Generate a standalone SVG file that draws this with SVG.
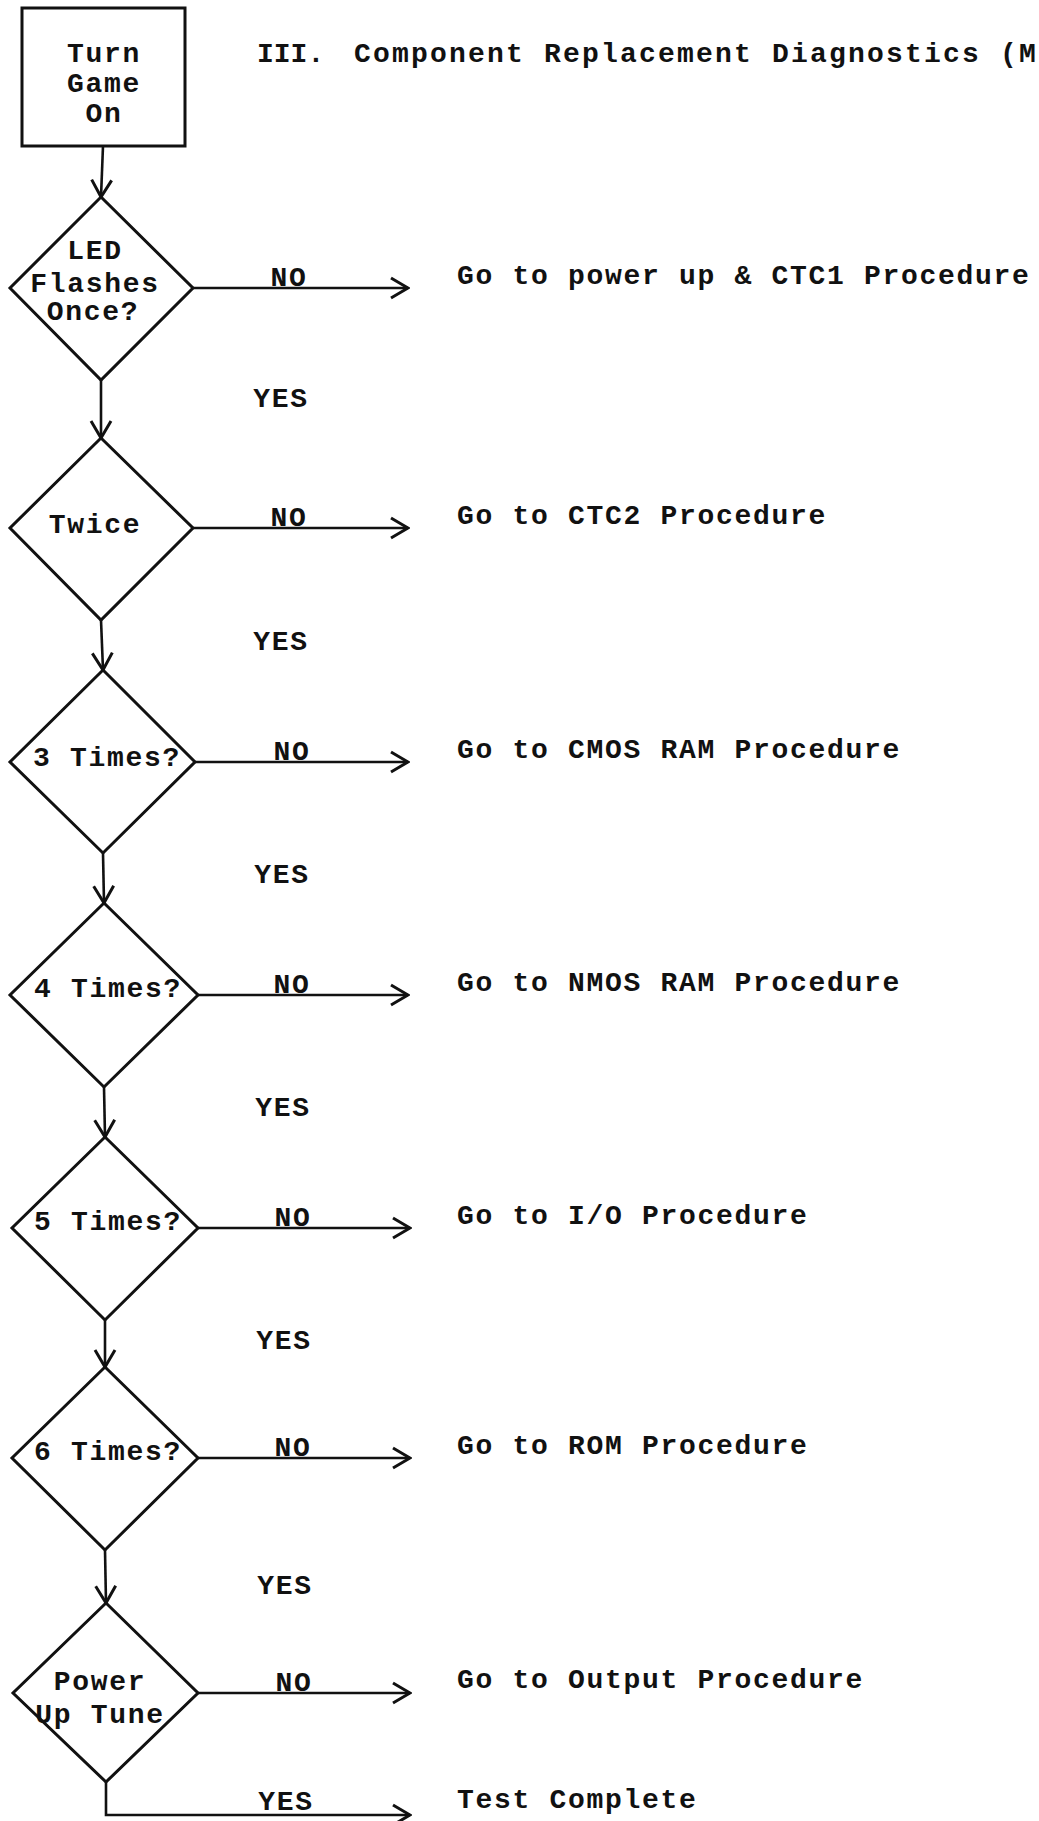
<svg xmlns="http://www.w3.org/2000/svg" width="1039" height="1821" viewBox="0 0 1039 1821">
<defs>
<style>
text{font-family:"Liberation Mono","Courier New",monospace;font-size:28px;font-weight:bold;fill:#111;letter-spacing:1.7px}
.c{text-anchor:middle}
.shape{fill:#fff;stroke:#111;stroke-width:3;stroke-linejoin:miter}
.conn{fill:none;stroke:#111;stroke-width:2.6}
</style>
<marker id="arr" markerUnits="userSpaceOnUse" markerWidth="22" markerHeight="26" viewBox="0 0 22 26" refX="20" refY="13" orient="auto">
<path d="M3,3 L20,13 L3,23" fill="none" stroke="#111" stroke-width="3"/>
</marker>
</defs>
<rect width="1039" height="1821" fill="#fff"/>
<g id="title">
<text x="257" y="62" style="letter-spacing:0">III.</text>
<text x="354" y="62" style="letter-spacing:2.2px">Component Replacement Diagnostics (M</text>
</g>

<g id="connectors">
<line class="conn" x1="103" y1="146" x2="101" y2="197" marker-end="url(#arr)"/>
<line class="conn" x1="101" y1="380" x2="101" y2="438" marker-end="url(#arr)"/>
<line class="conn" x1="101" y1="620" x2="103" y2="670" marker-end="url(#arr)"/>
<line class="conn" x1="103" y1="853" x2="104" y2="903" marker-end="url(#arr)"/>
<line class="conn" x1="104" y1="1087" x2="105" y2="1137" marker-end="url(#arr)"/>
<line class="conn" x1="105" y1="1320" x2="105" y2="1367" marker-end="url(#arr)"/>
<line class="conn" x1="105" y1="1550" x2="106" y2="1603" marker-end="url(#arr)"/>
<line class="conn" x1="193" y1="288" x2="408" y2="288" marker-end="url(#arr)"/>
<line class="conn" x1="193" y1="528" x2="408" y2="528" marker-end="url(#arr)"/>
<line class="conn" x1="195" y1="762" x2="408" y2="762" marker-end="url(#arr)"/>
<line class="conn" x1="198" y1="995" x2="408" y2="995" marker-end="url(#arr)"/>
<line class="conn" x1="198" y1="1228" x2="410" y2="1228" marker-end="url(#arr)"/>
<line class="conn" x1="198" y1="1458" x2="410" y2="1458" marker-end="url(#arr)"/>
<line class="conn" x1="198" y1="1693" x2="410" y2="1693" marker-end="url(#arr)"/>
<path class="conn" d="M106,1782 V1815 H410" stroke-width="3" marker-end="url(#arr)"/>
<text class="c" x="289" y="286">NO</text>
<text class="c" x="289" y="526">NO</text>
<text class="c" x="292" y="760">NO</text>
<text class="c" x="292" y="993">NO</text>
<text class="c" x="293" y="1226">NO</text>
<text class="c" x="293" y="1456">NO</text>
<text class="c" x="294" y="1691">NO</text>
<text class="c" x="281" y="407">YES</text>
<text class="c" x="281" y="650">YES</text>
<text class="c" x="282" y="883">YES</text>
<text class="c" x="283" y="1116">YES</text>
<text class="c" x="284" y="1349">YES</text>
<text class="c" x="285" y="1594">YES</text>
<text class="c" x="286" y="1810">YES</text>
</g>

<g id="start">
<rect class="shape" x="22" y="8" width="163" height="138"/>
<text class="c" x="104" y="62">Turn</text>
<text class="c" x="104" y="92">Game</text>
<text class="c" x="104" y="122">On</text>
</g>

<g id="d1">
<polygon class="shape" points="101,197 193,288 101,380 10,288"/>
<text class="c" x="95" y="259">LED</text>
<text class="c" x="95" y="292">Flashes</text>
<text class="c" x="93" y="320">Once?</text>
</g>
<g id="d2">
<polygon class="shape" points="101,438 193,528 101,620 10,528"/>
<text class="c" x="95" y="533">Twice</text>
</g>
<g id="d3">
<polygon class="shape" points="103,670 195,762 103,853 10,762"/>
<text class="c" x="107" y="766">3 Times?</text>
</g>
<g id="d4">
<polygon class="shape" points="104,903 198,995 104,1087 10,995"/>
<text class="c" x="108" y="997">4 Times?</text>
</g>
<g id="d5">
<polygon class="shape" points="105,1137 198,1228 105,1320 12,1228"/>
<text class="c" x="108" y="1230">5 Times?</text>
</g>
<g id="d6">
<polygon class="shape" points="105,1367 198,1458 105,1550 12,1458"/>
<text class="c" x="108" y="1460">6 Times?</text>
</g>
<g id="d7">
<polygon class="shape" points="106,1603 198,1693 106,1782 13,1693"/>
<text class="c" x="100" y="1690">Power</text>
<text class="c" x="100" y="1723">Up Tune</text>
</g>

<g id="t1"><text x="457" y="284">Go to power up &amp; CTC1 Procedure</text></g>
<g id="t2"><text x="457" y="524">Go to CTC2 Procedure</text></g>
<g id="t3"><text x="457" y="758">Go to CMOS RAM Procedure</text></g>
<g id="t4"><text x="457" y="991">Go to NMOS RAM Procedure</text></g>
<g id="t5"><text x="457" y="1224">Go to I/O Procedure</text></g>
<g id="t6"><text x="457" y="1454">Go to ROM Procedure</text></g>
<g id="t7"><text x="457" y="1688">Go to Output Procedure</text></g>
<g id="t8"><text x="457" y="1808">Test Complete</text></g>
</svg>
